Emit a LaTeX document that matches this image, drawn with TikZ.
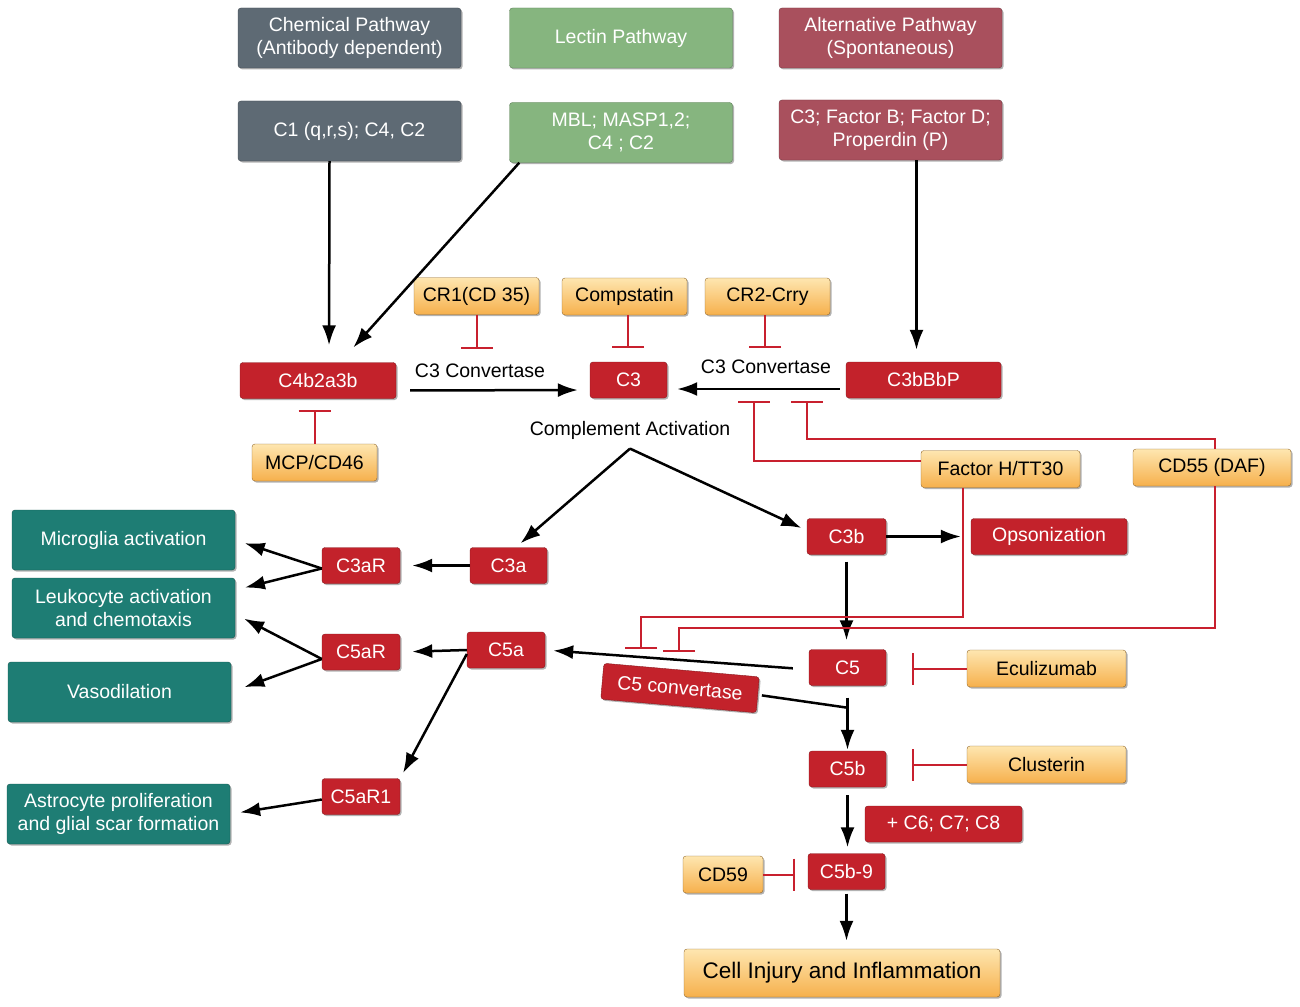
\documentclass[tikz,border=0pt]{standalone}
\usepackage{fontspec}
\setmainfont{Liberation Sans}
\usepackage{tikz}
\usetikzlibrary{arrows.meta,shadows,positioning}

\definecolor{chemgray}{HTML}{5E6A74}
\definecolor{lectgreen}{HTML}{86B57F}
\definecolor{altrose}{HTML}{A9505D}
\definecolor{boxred}{HTML}{C3222B}
\definecolor{inhred}{HTML}{C8202E}
\definecolor{tealbox}{HTML}{1E7D74}
\definecolor{orangetop}{HTML}{FEE6B0}
\definecolor{orangebot}{HTML}{F6B04C}

\begin{document}
\begin{tikzpicture}[x=1pt, y=-1pt,
    font=\fontsize{19.5}{23}\selectfont,
    box/.style={rectangle, rounded corners=3pt, align=center, inner sep=2pt,
      general shadow={shadow xshift=1.5pt, shadow yshift=-1.5pt, fill=black, opacity=0.3}},
    path/.style={box, text=white, minimum width=223pt, minimum height=60pt},
    redbox/.style={box, fill=boxred, draw=boxred!70!black, text=white, minimum height=36pt},
    inhibitor/.style={box, top color=orangetop, bottom color=orangebot, draw=orangebot!60!black, minimum height=37pt},
    effect/.style={box, fill=tealbox, draw=tealbox!70!black, text=white, minimum width=223pt, minimum height=60pt},
    arr/.style={-{Latex[length=20pt,width=14pt]}, line width=2.5pt},
    inh/.style={draw=inhred, line width=2pt, -{Bar[width=32pt,line width=2pt]}}]
  \useasboundingbox[fill=white] (0,0) rectangle (1300,1006);

  % pathways
  \node [path, fill=chemgray, draw=chemgray!70!black] (chem) at (349.5,38) {Chemical Pathway\\(Antibody dependent)};
  \node [path, fill=lectgreen, draw=lectgreen!70!black] (lectin) at (621,38) {Lectin Pathway};
  \node [path, fill=altrose, draw=altrose!70!black] (alt) at (890.5,38) {Alternative Pathway\\(Spontaneous)};
  \node [path, fill=chemgray, draw=chemgray!70!black] (cone) at (349.5,131) {C1 (q,r,s); C4, C2};
  \node [path, fill=lectgreen, draw=lectgreen!70!black] (mbl) at (621,132.5) {MBL; MASP1,2;\\C4 ; C2};
  \node [path, fill=altrose, draw=altrose!70!black] (cthreefb) at (890.5,130) {C3; Factor B; Factor D;\\Properdin (P)};

  % inhibitors
  \node [inhibitor, minimum width=125pt] (crone) at (476.5,296) {CR1(CD 35)};
  \node [inhibitor, minimum width=125pt] (compst) at (624.5,296.5) {Compstatin};
  \node [inhibitor, minimum width=125pt] (crtwo) at (767.5,296.5) {CR2-Crry};
  \node [inhibitor, minimum width=125pt] (mcp) at (314.5,462.5) {MCP/CD46};
  \node [inhibitor, minimum width=159pt] (facth) at (1000.5,469) {Factor H/TT30};
  \node [inhibitor, minimum width=158pt] (cdff) at (1212,467.5) {CD55 (DAF)};
  \node [inhibitor, minimum width=159pt] (eculi) at (1046.5,668.5) {Eculizumab};
  \node [inhibitor, minimum width=159pt] (clust) at (1046.5,764.5) {Clusterin};
  \node [inhibitor, minimum width=80pt] (cdfn) at (723,874.5) {CD59};
  \node [inhibitor, minimum width=316pt, minimum height=48pt, font=\fontsize{22.5}{26}\selectfont] (injury) at (842,973) {Cell Injury and Inflammation};

  % components
  \node [redbox, minimum width=156pt] (cfb) at (318,380.5) {C4b2a3b};
  \node [redbox, minimum width=77pt] (cthree) at (628.5,380) {C3};
  \node [redbox, minimum width=155pt] (cbbp) at (923.5,380) {C3bBbP};
  \node [redbox, minimum width=77pt] (cthreea) at (508.5,565.5) {C3a};
  \node [redbox, minimum width=78pt] (cthreear) at (361,565.5) {C3aR};
  \node [redbox, minimum width=79pt] (cthreeb) at (846.5,536.5) {C3b};
  \node [redbox, minimum width=156pt] (opso) at (1049,536.5) {Opsonization};
  \node [redbox, minimum width=78pt] (cfivea) at (506,650) {C5a};
  \node [redbox, minimum width=78pt] (cfivear) at (361,652) {C5aR};
  \node [redbox, minimum width=78pt] (cfivearone) at (361,796.5) {C5aR1};
  \node [redbox, minimum width=77pt] (cfive) at (847.5,667.5) {C5};
  \node [redbox, minimum width=156pt, rotate=-5] (cfiveconv) at (680,688) {C5 convertase};
  \node [redbox, minimum width=77pt] (cfiveb) at (847.5,769) {C5b};
  \node [redbox, minimum width=157pt] (csix) at (943.5,824) {+ C6; C7; C8};
  \node [redbox, minimum width=77pt] (mac) at (846.5,871.5) {C5b-9};

  % effects
  \node [effect] (micro) at (123.5,540) {Microglia activation};
  \node [effect] (leuko) at (123.5,608) {Leukocyte activation\\and chemotaxis};
  \node [effect] (vaso) at (119.5,692) {Vasodilation};
  \node [effect] (astro) at (118.5,814) {Astrocyte proliferation\\and glial scar formation};

  % labels
  \node (convl) at (480,371) {C3 Convertase};
  \node (convr) at (766,367) {C3 Convertase};
  \node (activ) at (630,430) {Complement Activation};

  % activation arrows
  \draw [arr, shorten >=17pt] ([xshift=-20pt]cone.south) -- ([xshift=11pt]cfb.north);
  \draw [arr, shorten >=20pt] ([xshift=10pt]mbl.south west) -- ([xshift=22pt]cfb.north);
  \draw [arr, shorten >=12pt] ([xshift=26pt]cthreefb.south) -- ([xshift=-7pt]cbbp.north);
  \draw [arr, shorten <=14pt, shorten >=12pt] ([yshift=-10pt]cfb.east) -- ([yshift=-10pt]cthree.west);
  \draw [arr, shorten <=6pt, shorten >=10pt] ([yshift=-9pt]cbbp.west) -- ([yshift=-9pt]cthree.east);
  \draw [arr] ([yshift=-6pt]activ.south) -- ([xshift=12pt, yshift=4pt]cthreea.north);
  \draw [arr, shorten >=6pt] ([yshift=-6pt]activ.south) -- ([yshift=6pt]cthreeb.west);
  \draw [arr, shorten >=12pt] (cthreea.west) -- (cthreear.east);
  \draw [arr, shorten >=10pt] ([yshift=-3pt]cthreear.west) -- (micro.east);
  \draw [arr, shorten >=10pt] ([yshift=-3pt]cthreear.west) -- ([yshift=18pt]leuko.east);
  \draw [arr, shorten >=10pt] ([yshift=-7pt]cfivear.west) -- ([yshift=-6pt]leuko.east);
  \draw [arr, shorten >=14pt] ([yshift=-7pt]cfivear.west) -- (vaso.east);
  \draw [arr, shorten >=12pt] (cfivea.west) -- (cfivear.east);
  \draw [arr, shorten >=6pt] ([yshift=-4pt]cfivea.west) -- (cfivearone.north east);
  \draw [arr, shorten >=10pt] ([yshift=-3pt]cfivearone.west) -- (astro.east);
  \draw [arr, shorten >=10pt] (cthreeb.east) -- (opso.west);
  \draw [arr, shorten <=7pt, shorten >=9pt] (cthreeb.south) -- (cthreeb.south |- cfive.north);
  \draw [arr, shorten <=16pt, shorten >=8pt] ([yshift=-2pt]cfive.west) -- (cfivea.east);
  \draw [line width=2.5pt, shorten <=4pt] (cfiveconv.east) -- ([yshift=-22pt]cfive.south);
  \draw [arr, shorten >=1pt] ([yshift=-12pt]cfive.south) -- (cfiveb.north);
  \draw [arr, shorten <=8pt, shorten >=6pt] (cfiveb.south) -- (cfiveb.south |- mac.north);
  \draw [arr, shorten <=4pt, shorten >=8pt] (mac.south) -- (mac.south |- injury.north);

  % inhibition
  \coordinate (fhbar) at (754,401);
  \coordinate (dafbar) at (807,401);
  \coordinate (fhcfive) at (641,649);
  \coordinate (dafcfive) at (679,652);
  \draw [inh] (crone.south) -- ++(0,34);
  \draw [inh] ([xshift=3.5pt]compst.south) -- ++(0,33);
  \draw [inh] ([xshift=-2.5pt]crtwo.south) -- ++(0,33);
  \draw [inh] (mcp.north) -- ++(0,-34);
  \draw [inh] ([yshift=8pt]facth.west) -| (fhbar);
  \draw [inh] ([xshift=3pt]cdff.north) -- ++(0,-10) -| (dafbar);
  \draw [inh] ([xshift=-38pt]facth.south) -- ++(0,129) -| (fhcfive);
  \draw [inh] ([xshift=3pt]cdff.south) -- ++(0,142) -| (dafcfive);
  \draw [inh] (eculi.west) -- ++(-55,0);
  \draw [inh] (clust.west) -- ++(-55,0);
  \draw [inh] (cdfn.east) -- ++(32,0);
\end{tikzpicture}
\end{document}
